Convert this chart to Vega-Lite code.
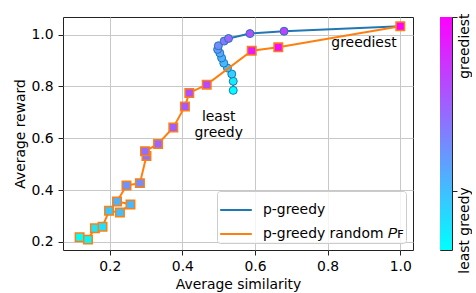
{
  "$schema": "https://vega.github.io/schema/vega-lite/v6.json",
  "padding": {"left": 13, "top": 12, "right": 0, "bottom": 0},
  "background": "white",
  "config": {
    "font": "DejaVu Sans",
    "view": {"stroke": "#222222", "strokeWidth": 1},
    "axis": {
      "labelFont": "DejaVu Sans", "titleFont": "DejaVu Sans",
      "labelFontSize": 13.9, "titleFontSize": 13.9, "titleFontWeight": "normal",
      "labelColor": "#000000", "titleColor": "#000000",
      "tickColor": "#222222", "tickSize": 5, "domain": false,
      "gridColor": "#c8c8c8", "gridWidth": 1, "labelPadding": 4
    },
    "legend": {
      "fillColor": "rgba(255,255,255,0.8)", "strokeColor": "#cccccc", "cornerRadius": 3,
      "padding": 2, "labelFont": "DejaVu Sans", "labelFontSize": 13.9, "labelColor": "#000000",
      "symbolType": "stroke", "symbolStrokeWidth": 2, "symbolSize": 1000,
      "labelOffset": 10, "rowPadding": -9
    }
  },
  "datasets": {
    "pts": [
      {"series": "p-greedy", "idx": 1, "sim": 0.540, "reward": 0.785, "greed": 0.0},
      {"series": "p-greedy", "idx": 2, "sim": 0.540, "reward": 0.820, "greed": 0.08},
      {"series": "p-greedy", "idx": 3, "sim": 0.536, "reward": 0.848, "greed": 0.18},
      {"series": "p-greedy", "idx": 4, "sim": 0.524, "reward": 0.871, "greed": 0.25},
      {"series": "p-greedy", "idx": 5, "sim": 0.514, "reward": 0.890, "greed": 0.28},
      {"series": "p-greedy", "idx": 6, "sim": 0.508, "reward": 0.910, "greed": 0.31},
      {"series": "p-greedy", "idx": 7, "sim": 0.503, "reward": 0.929, "greed": 0.34},
      {"series": "p-greedy", "idx": 8, "sim": 0.497, "reward": 0.943, "greed": 0.40},
      {"series": "p-greedy", "idx": 9, "sim": 0.499, "reward": 0.957, "greed": 0.46},
      {"series": "p-greedy", "idx": 10, "sim": 0.515, "reward": 0.975, "greed": 0.53},
      {"series": "p-greedy", "idx": 11, "sim": 0.527, "reward": 0.985, "greed": 0.60},
      {"series": "p-greedy", "idx": 12, "sim": 0.586, "reward": 1.004, "greed": 0.70},
      {"series": "p-greedy", "idx": 13, "sim": 0.680, "reward": 1.013, "greed": 0.75},
      {"series": "p-greedy", "idx": 14, "sim": 1.000, "reward": 1.032, "greed": 1.0},
      {"series": "p-greedy random P_F", "idx": 1, "sim": 0.117, "reward": 0.218, "greed": 0.0},
      {"series": "p-greedy random P_F", "idx": 2, "sim": 0.140, "reward": 0.209, "greed": 0.03},
      {"series": "p-greedy random P_F", "idx": 3, "sim": 0.159, "reward": 0.253, "greed": 0.10},
      {"series": "p-greedy random P_F", "idx": 4, "sim": 0.180, "reward": 0.259, "greed": 0.13},
      {"series": "p-greedy random P_F", "idx": 5, "sim": 0.198, "reward": 0.320, "greed": 0.22},
      {"series": "p-greedy random P_F", "idx": 6, "sim": 0.228, "reward": 0.314, "greed": 0.25},
      {"series": "p-greedy random P_F", "idx": 7, "sim": 0.257, "reward": 0.345, "greed": 0.28},
      {"series": "p-greedy random P_F", "idx": 8, "sim": 0.220, "reward": 0.356, "greed": 0.30},
      {"series": "p-greedy random P_F", "idx": 9, "sim": 0.246, "reward": 0.418, "greed": 0.42},
      {"series": "p-greedy random P_F", "idx": 10, "sim": 0.283, "reward": 0.427, "greed": 0.45},
      {"series": "p-greedy random P_F", "idx": 11, "sim": 0.301, "reward": 0.532, "greed": 0.55},
      {"series": "p-greedy random P_F", "idx": 12, "sim": 0.297, "reward": 0.550, "greed": 0.57},
      {"series": "p-greedy random P_F", "idx": 13, "sim": 0.333, "reward": 0.578, "greed": 0.60},
      {"series": "p-greedy random P_F", "idx": 14, "sim": 0.375, "reward": 0.642, "greed": 0.63},
      {"series": "p-greedy random P_F", "idx": 15, "sim": 0.407, "reward": 0.723, "greed": 0.66},
      {"series": "p-greedy random P_F", "idx": 16, "sim": 0.419, "reward": 0.775, "greed": 0.69},
      {"series": "p-greedy random P_F", "idx": 17, "sim": 0.467, "reward": 0.807, "greed": 0.72},
      {"series": "p-greedy random P_F", "idx": 18, "sim": 0.591, "reward": 0.938, "greed": 0.90},
      {"series": "p-greedy random P_F", "idx": 19, "sim": 0.664, "reward": 0.951, "greed": 0.95},
      {"series": "p-greedy random P_F", "idx": 20, "sim": 1.000, "reward": 1.032, "greed": 1.0}
    ],
    "notes": [
      {"sim": 0.90, "reward": 0.966, "note": "greediest"},
      {"sim": 0.50, "reward": 0.683, "note": "least\ngreedy"}
    ],
    "cbar": [{"lo": 0, "hi": 1}]
  },
  "spacing": 25,
  "resolve": {"scale": {"y": "independent", "stroke": "independent", "fill": "independent"}, "legend": {"stroke": "independent", "fill": "independent"}, "axis": {"y": "independent"}},
  "hconcat": [
    {
      "width": 350,
      "height": 233,
      "data": {"name": "pts"},
      "encoding": {
        "x": {"field": "sim", "type": "quantitative",
              "scale": {"domain": [0.0712, 1.035], "nice": false, "zero": false},
              "axis": {"values": [0.2, 0.4, 0.6, 0.8, 1.0], "format": ".1f", "title": "Average similarity", "grid": true, "titlePadding": 5}},
        "y": {"field": "reward", "type": "quantitative",
              "scale": {"domain": [0.169, 1.068], "nice": false, "zero": false},
              "axis": {"values": [0.2, 0.4, 0.6, 0.8, 1.0], "format": ".1f", "title": "Average reward", "grid": true, "labelPadding": 5, "titlePadding": 3}}
      },
      "layer": [
        {
          "transform": [{"filter": "datum.series === 'p-greedy'"}],
          "mark": {"type": "line", "strokeWidth": 2},
          "encoding": {
            "order": {"field": "idx", "type": "quantitative"},
            "stroke": {"field": "series", "type": "nominal",
                       "scale": {"domain": ["p-greedy", "p-greedy random P_F"], "range": ["#1f77b4", "#ff7f0e"]},
                       "legend": {"title": null, "orient": "bottom-right", "offset": 7,
                                  "labelExpr": "datum.label == 'p-greedy random P_F' ? 'p-greedy random 𝑃ꜰ' : datum.label"}}
          }
        },
        {
          "transform": [{"filter": "datum.series === 'p-greedy'"}],
          "mark": {"type": "circle", "size": 64, "stroke": "#1f77b4", "strokeWidth": 1, "opacity": 1},
          "encoding": {
            "fill": {"field": "greed", "type": "quantitative",
                     "scale": {"domain": [0, 1], "range": ["#00ffff", "#ff00ff"], "interpolate": "rgb"},
                     "legend": null}
          }
        },
        {
          "transform": [{"filter": "datum.series !== 'p-greedy'"}],
          "mark": {"type": "line", "strokeWidth": 2},
          "encoding": {
            "order": {"field": "idx", "type": "quantitative"},
            "stroke": {"field": "series", "type": "nominal"}
          }
        },
        {
          "transform": [{"filter": "datum.series !== 'p-greedy'"}],
          "mark": {"type": "square", "size": 72, "stroke": "#ff7f0e", "strokeWidth": 1.5, "opacity": 1},
          "encoding": {
            "fill": {"field": "greed", "type": "quantitative", "legend": null}
          }
        },
        {
          "data": {"name": "notes"},
          "mark": {"type": "text", "fontSize": 13.9, "font": "DejaVu Sans", "lineBreak": "\n", "lineHeight": 16, "align": "center", "baseline": "middle", "color": "#000000"},
          "encoding": {
            "text": {"field": "note", "type": "nominal"}
          }
        }
      ]
    },
    {
      "width": 12,
      "height": 233,
      "data": {"name": "cbar"},
      "mark": {"type": "rect", "fill": {"gradient": "linear", "x1": 0, "y1": 1, "x2": 0, "y2": 0,
               "stops": [{"offset": 0, "color": "#00ffff"}, {"offset": 1, "color": "#ff00ff"}]}},
      "encoding": {
        "y": {"field": "lo", "type": "quantitative", "scale": {"domain": [0, 1], "nice": false, "zero": false},
              "axis": {"orient": "right", "values": [0.254, 1], "title": null, "grid": false,
                       "labelExpr": "datum.value > 0.5 ? 'greediest' : 'least greedy'",
                       "labelAngle": -90, "labelAlign": "right", "labelBaseline": "middle",
                       "labelOffset": -4, "labelPadding": 7, "labelFlush": false, "labelOverlap": false, "labelBound": false}},
        "y2": {"field": "hi"}
      }
    }
  ]
}
